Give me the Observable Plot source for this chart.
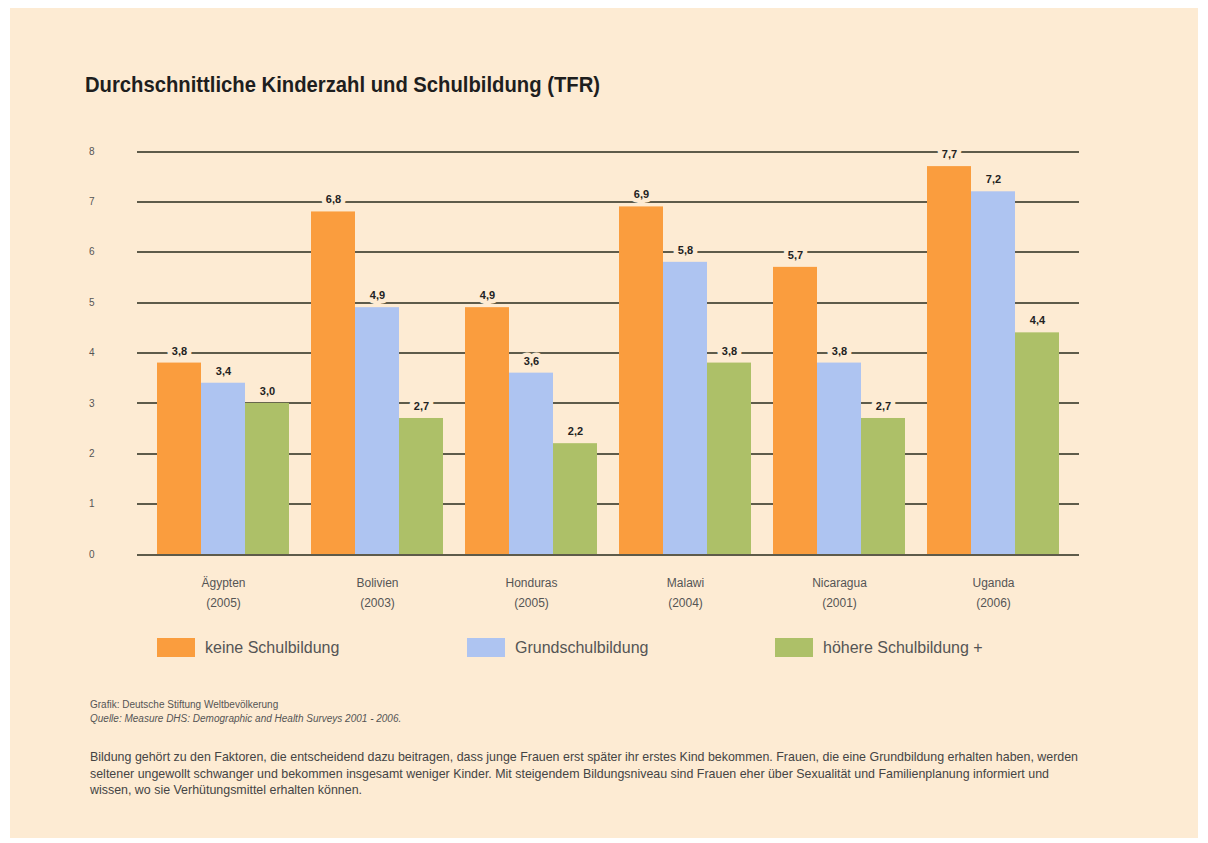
<!DOCTYPE html>
<html>
<head>
<meta charset="utf-8">
<script src="https://cdn.jsdelivr.net/npm/d3@7"></script>
<script src="https://cdn.jsdelivr.net/npm/@observablehq/plot@0.6"></script>
<style>
  html, body { margin: 0; padding: 0; background: #ffffff; }
  #panel { position: absolute; left: 10px; top: 8px; width: 1188px; height: 830px; background: #fdebd3; overflow: hidden; }
  #title { position: absolute; left: 75px; top: 66px; font-family: "Liberation Sans", sans-serif; font-weight: bold; font-size: 22px; color: #1e1e1e; white-space: nowrap; line-height: 1; transform: scaleX(0.92); transform-origin: 0 0; }
  #chart { position: absolute; left: 0; top: 112px; }
  .leg { position: absolute; top: 630px; font-family: "Liberation Sans", sans-serif; font-size: 16px; color: #555; white-space: nowrap; }
  .sw { position: absolute; top: 0; width: 38px; height: 19px; }
  .lt { position: absolute; top: 0; line-height: 19px; }
  #credit { position: absolute; left: 80px; top: 690px; font-family: "Liberation Sans", sans-serif; font-size: 10px; color: #555; line-height: 14px; white-space: nowrap; }
  #para { position: absolute; left: 80px; top: 741px; font-family: "Liberation Sans", sans-serif; font-size: 13.5px; color: #444; line-height: 16.5px; white-space: nowrap; transform: scaleX(0.92); transform-origin: 0 0; }
</style>
</head>
<body>
<div id="panel">
  <div id="title">Durchschnittliche Kinderzahl und Schulbildung (TFR)</div>
  <div id="chart"></div>
  <div id="legend"></div>
  <div id="credit">Grafik: Deutsche Stiftung Weltbevölkerung<br><i>Quelle: Measure DHS: Demographic and Health Surveys 2001 - 2006.</i></div>
  <div id="para">Bildung gehört zu den Faktoren, die entscheidend dazu beitragen, dass junge Frauen erst später ihr erstes Kind bekommen. Frauen, die eine Grundbildung erhalten haben, werden<br>seltener ungewollt schwanger und bekommen insgesamt weniger Kinder. Mit steigendem Bildungsniveau sind Frauen eher über Sexualität und Familienplanung informiert und<br>wissen, wo sie Verhütungsmittel erhalten können.</div>
</div>
<script>
const countries = ["Ägypten", "Bolivien", "Honduras", "Malawi", "Nicaragua", "Uganda"];
const years = ["2005", "2003", "2005", "2004", "2001", "2006"];
const series = ["keine Schulbildung", "Grundschulbildung", "höhere Schulbildung +"];
const keineSchulbildung = [3.8, 6.8, 4.9, 6.9, 5.7, 7.7];
const grundschulbildung = [3.4, 4.9, 3.6, 5.8, 3.8, 7.2];
const hoehereSchulbildung = [3.0, 2.7, 2.2, 3.8, 2.7, 4.4];
const yTicks = [0, 1, 2, 3, 4, 5, 6, 7, 8];
const colors = ["#fa9d3e", "#aec4f1", "#adc068"];
const bg = "#fdebd3";

const seriesValues = [keineSchulbildung, grundschulbildung, hoehereSchulbildung];
const data = countries.flatMap((c, i) => series.map((s, j) => ({country: c, series: s, value: seriesValues[j][i]})));
const fmt = v => v.toFixed(1).replace(".", ",");
const yearOf = c => years[countries.indexOf(c)];

const chart = Plot.plot({
  width: 1188,
  height: 500,
  marginLeft: 134,
  marginRight: 127,
  marginTop: 31,
  marginBottom: 66,
  style: {background: "transparent", fontFamily: "Liberation Sans, sans-serif", overflow: "visible"},
  fx: {domain: countries, padding: 0, label: null},
  x: {domain: series, paddingInner: 0, paddingOuter: 0.244, axis: null},
  y: {domain: [0, 8]},
  color: {domain: series, range: colors},
  marks: [
    Plot.ruleY(yTicks, {stroke: "#5e5b4a", strokeWidth: 2, insetLeft: -9, insetRight: -9, shapeRendering: "crispEdges"}),
    Plot.barY(data, {fx: "country", x: "series", y: "value", fill: "series"}),
    Plot.text(data, {fx: "country", x: "series", y: "value", text: d => fmt(d.value), dy: -12,
      fill: "#222", stroke: bg, strokeWidth: 9, fontWeight: "bold", fontSize: 11}),
    Plot.axisY({ticks: yTicks, tickSize: 0, tickPadding: 52, fontSize: 10, tickFormat: d => d,
      fill: "#555", label: null}),
    Plot.axisFx({anchor: "bottom", tickSize: 0, tickPadding: 18, fontSize: 12, lineHeight: 1.7,
      tickFormat: c => `${c}\n(${yearOf(c)})`, fill: "#555", label: null})
  ]
});
document.getElementById("chart").appendChild(chart);

const legend = document.getElementById("legend");
const legendX = [147, 457, 765];
series.forEach((s, i) => {
  const item = document.createElement("div");
  item.className = "leg";
  item.style.left = legendX[i] + "px";
  item.innerHTML = `<div class="sw" style="left:0;background:${colors[i]}"></div><div class="lt" style="left:48px">${s}</div>`;
  legend.appendChild(item);
});
</script>
</body>
</html>
